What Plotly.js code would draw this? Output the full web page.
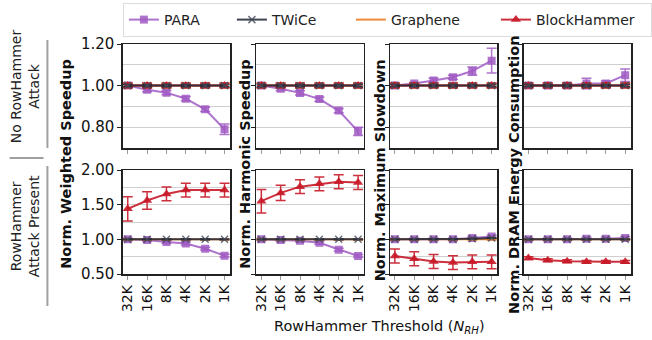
<!DOCTYPE html>
<html>
<head>
<meta charset="utf-8">
<script src="https://cdn.plot.ly/plotly-3.0.1.min.js"></script>
<style>html,body{margin:0;padding:0;background:#fff;}#chart{width:652px;height:340px;}</style>
</head>
<body>
<div id="chart"></div>
<script>
// ---------- DATA ----------
const thresholds = ['32K', '16K', '8K', '4K', '2K', '1K'];
const seriesNames = ['PARA', 'TWiCe', 'Graphene', 'BlockHammer'];
const metricTitles = ['Norm. Weighted Speedup', 'Norm. Harmonic Speedup', 'Norm. Maximum Slowdown', 'Norm. DRAM Energy Consumption'];
const rowLabels = ['No RowHammer<br>Attack', 'RowHammer<br>Attack Present'];
const topTickVals = [0.80, 1.00, 1.20];
const bottomTickVals = [0.50, 1.00, 1.50, 2.00];

// Row 1: no RowHammer attack
const noAtkWS_para = [1.00, 0.98, 0.966, 0.937, 0.886, 0.79];
const noAtkWS_paraErr = [0.01, 0.01, 0.01, 0.01, 0.01, 0.025];
const noAtkWS_twice = [1.00, 1.00, 1.00, 1.00, 1.00, 1.00];
const noAtkWS_graphene = [1.00, 1.00, 1.00, 1.00, 1.00, 1.00];
const noAtkWS_bh = [1.00, 1.00, 1.00, 1.00, 1.00, 1.00];
const noAtkWS_bhErr = [0.012, 0.012, 0.012, 0.012, 0.012, 0.012];

const noAtkHS_para = [1.00, 0.985, 0.965, 0.935, 0.88, 0.78];
const noAtkHS_paraErr = [0.01, 0.01, 0.01, 0.01, 0.01, 0.02];
const noAtkHS_twice = [1.00, 1.00, 1.00, 1.00, 1.00, 1.00];
const noAtkHS_graphene = [1.00, 1.00, 1.00, 1.00, 1.00, 1.00];
const noAtkHS_bh = [1.00, 1.00, 1.00, 1.00, 1.00, 1.00];
const noAtkHS_bhErr = [0.012, 0.012, 0.012, 0.012, 0.012, 0.012];

const noAtkMS_para = [1.00, 1.01, 1.025, 1.04, 1.07, 1.12];
const noAtkMS_paraErr = [0.005, 0.005, 0.01, 0.01, 0.02, 0.06];
const noAtkMS_twice = [1.00, 1.00, 1.00, 1.00, 1.00, 1.00];
const noAtkMS_graphene = [1.00, 1.00, 1.00, 1.00, 1.00, 1.00];
const noAtkMS_bh = [1.00, 1.00, 1.00, 1.00, 1.00, 1.00];
const noAtkMS_bhErr = [0.012, 0.012, 0.012, 0.012, 0.012, 0.012];

const noAtkEN_para = [1.00, 1.00, 1.00, 1.01, 1.01, 1.05];
const noAtkEN_paraErr = [0.012, 0.012, 0.012, 0.025, 0.012, 0.03];
const noAtkEN_twice = [1.00, 1.00, 1.00, 1.00, 1.00, 1.00];
const noAtkEN_graphene = [1.00, 1.00, 1.00, 1.00, 1.00, 1.00];
const noAtkEN_bh = [1.00, 1.00, 1.00, 1.00, 1.00, 1.00];
const noAtkEN_bhErr = [0.012, 0.012, 0.012, 0.012, 0.012, 0.012];

// Row 2: RowHammer attack present
const atkWS_para = [1.00, 0.99, 0.96, 0.94, 0.865, 0.765];
const atkWS_paraErr = [0.02, 0.02, 0.02, 0.02, 0.02, 0.02];
const atkWS_twice = [1.00, 1.00, 1.00, 1.00, 1.00, 1.00];
const atkWS_graphene = [1.00, 1.00, 1.00, 1.00, 1.00, 1.00];
const atkWS_bh = [1.44, 1.56, 1.655, 1.71, 1.71, 1.71];
const atkWS_bhErr = [0.175, 0.125, 0.1, 0.1, 0.1, 0.1];

const atkHS_para = [1.00, 0.99, 0.98, 0.95, 0.85, 0.76];
const atkHS_paraErr = [0.02, 0.02, 0.02, 0.02, 0.02, 0.02];
const atkHS_twice = [1.00, 1.00, 1.00, 1.00, 1.00, 1.00];
const atkHS_graphene = [1.00, 1.00, 1.00, 1.00, 1.00, 1.00];
const atkHS_bh = [1.55, 1.67, 1.76, 1.80, 1.83, 1.82];
const atkHS_bhErr = [0.17, 0.11, 0.1, 0.1, 0.1, 0.1];

const atkMS_para = [1.00, 1.00, 1.00, 1.00, 1.02, 1.04];
const atkMS_paraErr = [0.02, 0.02, 0.02, 0.02, 0.02, 0.02];
const atkMS_twice = [1.00, 1.00, 1.00, 1.00, 1.01, 1.02];
const atkMS_graphene = [1.00, 1.00, 1.00, 1.00, 1.00, 1.00];
const atkMS_bh = [0.76, 0.72, 0.68, 0.665, 0.675, 0.675];
const atkMS_bhErr = [0.1, 0.1, 0.1, 0.1, 0.1, 0.1];

const atkEN_para = [1.00, 1.00, 1.00, 1.01, 1.01, 1.02];
const atkEN_paraErr = [0.02, 0.02, 0.02, 0.02, 0.02, 0.02];
const atkEN_twice = [1.00, 1.00, 1.00, 1.00, 1.00, 1.00];
const atkEN_graphene = [1.00, 1.00, 1.00, 1.00, 1.00, 1.00];
const atkEN_bh = [0.73, 0.70, 0.685, 0.675, 0.675, 0.675];
const atkEN_bhErr = [0.02, 0.02, 0.02, 0.02, 0.02, 0.02];

// ---------- STYLE ----------
const W = 652, H = 340;
const colPx = [[127, 238], [265, 376], [403, 514], [541, 652]];
const rowPx = [[44, 148], [170, 274]];
const FONT = 'DejaVu Sans, sans-serif';
const colors = {
  PARA: 'rgba(160,90,195,0.85)',
  TWiCe: 'rgba(40,45,60,0.9)',
  Graphene: 'rgba(235,125,35,0.9)',
  BlockHammer: 'rgba(200,25,40,0.9)'
};
const legendWidths = {PARA: 63, TWiCe: 74, Graphene: 100, BlockHammer: 110};

const panels = [
  [
    {para: noAtkWS_para, paraErr: noAtkWS_paraErr, twice: noAtkWS_twice, graphene: noAtkWS_graphene, bh: noAtkWS_bh, bhErr: noAtkWS_bhErr},
    {para: noAtkHS_para, paraErr: noAtkHS_paraErr, twice: noAtkHS_twice, graphene: noAtkHS_graphene, bh: noAtkHS_bh, bhErr: noAtkHS_bhErr},
    {para: noAtkMS_para, paraErr: noAtkMS_paraErr, twice: noAtkMS_twice, graphene: noAtkMS_graphene, bh: noAtkMS_bh, bhErr: noAtkMS_bhErr},
    {para: noAtkEN_para, paraErr: noAtkEN_paraErr, twice: noAtkEN_twice, graphene: noAtkEN_graphene, bh: noAtkEN_bh, bhErr: noAtkEN_bhErr}
  ],
  [
    {para: atkWS_para, paraErr: atkWS_paraErr, twice: atkWS_twice, graphene: atkWS_graphene, bh: atkWS_bh, bhErr: atkWS_bhErr},
    {para: atkHS_para, paraErr: atkHS_paraErr, twice: atkHS_twice, graphene: atkHS_graphene, bh: atkHS_bh, bhErr: atkHS_bhErr},
    {para: atkMS_para, paraErr: atkMS_paraErr, twice: atkMS_twice, graphene: atkMS_graphene, bh: atkMS_bh, bhErr: atkMS_bhErr},
    {para: atkEN_para, paraErr: atkEN_paraErr, twice: atkEN_twice, graphene: atkEN_graphene, bh: atkEN_bh, bhErr: atkEN_bhErr}
  ]
];

const traces = [];
const layout = {
  width: W, height: H,
  margin: {l: 0, r: 0, t: 0, b: 0},
  paper_bgcolor: '#fff', plot_bgcolor: '#fff',
  font: {family: FONT, size: 14, color: '#111'},
  showlegend: true,
  legend: {
    orientation: 'h', x: 127 / W, y: 1 - 3 / H, xanchor: 'left', yanchor: 'top',
    bordercolor: '#dcdcdc', borderwidth: 1, bgcolor: '#fff',
    font: {family: FONT, size: 14, color: '#222'}, traceorder: 'normal'
  },
  annotations: [], shapes: []
};

const xIdx = thresholds.map((_, i) => i);

for (let r = 0; r < 2; r++) {
  for (let c = 0; c < 4; c++) {
    const k = r * 4 + c + 1;
    const xa = 'x' + (k === 1 ? '' : k), ya = 'y' + (k === 1 ? '' : k);
    const d = panels[r][c];
    const first = (k === 1);
    const errStyle = (arr, col) => ({type: 'data', array: arr, visible: true, color: col, thickness: 1.5, width: 5});
    const mk = (name, y, err, sym, size, rank, extra) => Object.assign({
      type: 'scatter', mode: 'lines+markers', x: xIdx, y: y, name: name,
      xaxis: xa, yaxis: ya, legendgroup: name, showlegend: first, legendrank: rank,
      legendwidth: legendWidths[name],
      line: {color: colors[name], width: 2},
      marker: {symbol: sym, size: size, color: colors[name]},
      error_y: errStyle(err, colors[name]), hoverinfo: 'skip'
    }, extra || {});
    const small = thresholds.map(() => 0.005);
    traces.push(mk('PARA', d.para, d.paraErr, 'square', 8, 1));
    traces.push(mk('Graphene', d.graphene, small.map(() => 0.01), 'line-ns', 0, 3, {mode: 'lines'}));
    traces.push(mk('BlockHammer', d.bh, d.bhErr, 'triangle-up', 9, 4));
    traces.push(mk('TWiCe', d.twice, small, 'x-thin', 7, 2, {marker: {symbol: 'x-thin', size: 7, color: 'rgba(70,75,90,0.8)', line: {width: 1.5, color: 'rgba(70,75,90,0.8)'}}}));

    const dom = {
      x: [colPx[c][0] / W, colPx[c][1] / W],
      y: [1 - rowPx[r][1] / H, 1 - rowPx[r][0] / H]
    };
    layout['xaxis' + (k === 1 ? '' : k)] = {
      domain: dom.x, anchor: ya, range: [-0.25, 5.3],
      tickmode: 'array', tickvals: xIdx, ticktext: thresholds,
      showticklabels: r === 1, tickangle: -90, ticklabeloverflow: 'allow',
      ticks: 'outside', ticklen: 4, tickcolor: '#999', tickwidth: 1,
      tickfont: {family: FONT, size: 14, color: '#111'},
      showline: true, mirror: true, linecolor: '#222', linewidth: 1.5,
      showgrid: false, zeroline: false, fixedrange: true
    };
    layout['yaxis' + (k === 1 ? '' : k)] = {
      domain: dom.y, anchor: xa,
      range: r === 0 ? [0.70, 1.20] : [0.50, 2.00],
      tickmode: 'array', tickvals: r === 0 ? topTickVals : bottomTickVals,
      ticktext: (r === 0 ? topTickVals : bottomTickVals).map(v => v.toFixed(2)),
      showticklabels: c === 0, ticklabeloverflow: 'allow',
      ticks: 'outside', ticklen: 4, tickcolor: '#222', tickwidth: 1,
      tickfont: {family: FONT, size: 15, color: '#111'},
      showline: true, mirror: true, linecolor: '#222', linewidth: 1.5,
      showgrid: true, gridcolor: '#cfcfcf', gridwidth: 1,
      minor: {dtick: r === 0 ? 0.1 : 0.25, tick0: 0, showgrid: true, gridcolor: '#cfcfcf', gridwidth: 1, ticks: ''},
      zeroline: false, fixedrange: true
    };
  }
}

// Metric titles (spanning both rows)
const titleX = [68, 253, 393, 531];
const titleY = [164, 164, 170, 175];
metricTitles.forEach((t, i) => {
  layout.annotations.push({
    xref: 'paper', yref: 'paper', x: titleX[i] / W, y: 1 - titleY[i] / H,
    text: '<b>' + t + '</b>', textangle: -90, showarrow: false,
    xanchor: 'center', yanchor: 'middle',
    font: {family: FONT, size: 14.5, color: '#111'}
  });
});

// Row labels
const rowLabelY = [86, 226];
rowLabels.forEach((t, i) => {
  layout.annotations.push({
    xref: 'paper', yref: 'paper', x: 26 / W, y: 1 - rowLabelY[i] / H,
    text: t, textangle: -90, showarrow: false, xanchor: 'center', yanchor: 'middle',
    font: {family: FONT, size: 14, color: '#222'}
  });
});

// Separators
layout.shapes.push({type: 'line', xref: 'paper', yref: 'paper', x0: 49 / W, x1: 49 / W, y0: 1 - 40 / H, y1: 1 - 148 / H, line: {color: '#a0a0a0', width: 2}});
layout.shapes.push({type: 'line', xref: 'paper', yref: 'paper', x0: 10 / W, x1: 45 / W, y0: 1 - 158 / H, y1: 1 - 158 / H, line: {color: '#a0a0a0', width: 2}});
layout.shapes.push({type: 'line', xref: 'paper', yref: 'paper', x0: 49 / W, x1: 49 / W, y0: 1 - 166 / H, y1: 1 - 306 / H, line: {color: '#a0a0a0', width: 2}});

// X-axis title
layout.annotations.push({
  xref: 'paper', yref: 'paper', x: 392 / W, y: 1 - 327 / H,
  text: 'RowHammer Threshold (<i>N</i><sub><i>RH</i></sub>)', showarrow: false,
  xanchor: 'center', yanchor: 'middle', font: {family: FONT, size: 14.5, color: '#111'}
});

Plotly.newPlot('chart', traces, layout, {staticPlot: true, displayModeBar: false});
</script>
</body>
</html>
